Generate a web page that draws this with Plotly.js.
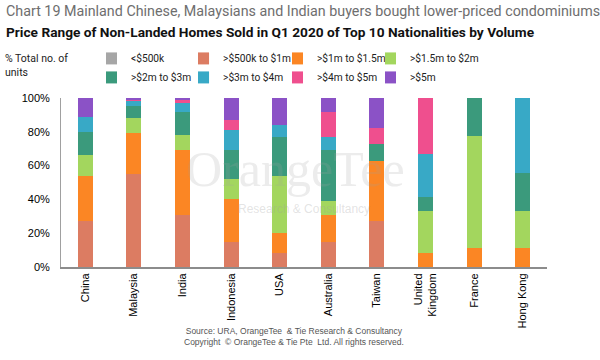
<!DOCTYPE html>
<html>
<head>
<meta charset="utf-8">
<script src="https://cdn.plot.ly/plotly-3.0.1.min.js"></script>
<style>
html,body{margin:0;padding:0;background:#fff;}
#chart{width:600px;height:360px;}
</style>
</head>
<body>
<div id="chart"></div>
<script>
var categories = ["China","Malaysia","India","Indonesia","USA","Australia","Taiwan","United<br>Kingdom","France","Hong Kong"];
var seriesNames = ["<$500k",">$500k to $1m",">$1m to $1.5m",">$1.5m to $2m",">$2m to $3m",">$3m to $4m",">$4m to $5m",">$5m"];
var under500k   = [0,0,0,0,0,0,0,0,0,0];
var k500to1m    = [27,55,31,15,8,15,27,0,0,0];
var m1to1_5     = [27,24,38,25,12,16,36,8.3,11.1,11.1];
var m1_5to2     = [12,9,9,12,34,8,0,25,66.7,22.2];
var m2to3       = [14,7,14,17,23,30,10,8.3,22.2,22.2];
var m3to4       = [9,3,5,12,7,8,0,25,0,44.5];
var m4to5       = [0,1,2,6,0,15,9,33.4,0,0];
var over5m      = [11,1,1,13,16,8,18,0,0,0];
var seriesValues = [under500k,k500to1m,m1to1_5,m1_5to2,m2to3,m3to4,m4to5,over5m];
var seriesColors = ["#a6a6a6","#dc7c62","#fb8624","#a3d65e","#3b9a7c","#38a9c6","#ef4f8e","#8b52c6"];
var yTickVals = [0,20,40,60,80,100];
var yTickText = ["0%","20%","40%","60%","80%","100%"];

var legendIds = ["legend","legend2","legend3","legend4"];
var traces = seriesNames.map(function(n,i){
  return {
    type:"bar", name:n, x:categories, y:seriesValues[i],
    legend: legendIds[i % 4],
    marker:{color:seriesColors[i], line:{width:0}},
    hoverinfo:"x+y+name"
  };
});

var legendFont = {family:"Roboto, sans-serif", size:10.2, color:"#222"};
function mkLegend(x){
  return {orientation:"v", x:x, xanchor:"left", y:1.32, yanchor:"top", font:legendFont,
    itemwidth:30, indentation:-15, traceorder:"normal", tracegroupgap:0,
    bgcolor:"rgba(255,255,255,0)", borderwidth:0};
}

var layout = {
  width:600, height:360,
  margin:{l:61, r:53, t:98, b:93},
  barmode:"stack", bargap:0.69,
  paper_bgcolor:"#fff", plot_bgcolor:"#fff",
  font:{family:"Liberation Sans, Arial, sans-serif", color:"#000", size:11},
  showlegend:true,
  legend:mkLegend(0.0926),
  legend2:mkLegend(0.282),
  legend3:mkLegend(0.4753),
  legend4:mkLegend(0.6667),
  xaxis:{type:"category", tickangle:-90, showline:true, linecolor:"#8c8c8c", linewidth:2,
    ticks:"", showgrid:false, zeroline:false, tickfont:{size:11, color:"#000"}, fixedrange:true},
  yaxis:{range:[0,100], tickvals:yTickVals, ticktext:yTickText, showline:true, linecolor:"#a0a0a0", linewidth:1,
    ticks:"", showgrid:false, zeroline:false, tickfont:{size:11, color:"#000"}, ticklabelstandoff:8, fixedrange:true},
  annotations:[
    {xref:"paper", yref:"paper", x:-0.117, y:1.515, xanchor:"left", yanchor:"middle", showarrow:false,
     text:"Chart 19 Mainland Chinese, Malaysians and Indian buyers bought lower-priced condominiums",
     font:{family:"Roboto, sans-serif", size:14.3, color:"#6e6e6e"}},
    {xref:"paper", yref:"paper", x:-0.117, y:1.39, xanchor:"left", yanchor:"middle", showarrow:false,
     text:"<b>Price Range of Non-Landed Homes Sold in Q1 2020 of Top 10 Nationalities by Volume</b>",
     font:{family:"Roboto, sans-serif", size:13.7, color:"#111"}},
    {xref:"paper", yref:"paper", x:-0.12, y:1.285, xanchor:"left", yanchor:"top", showarrow:false, align:"left",
     text:"% Total no. of<br>units",
     font:{family:"Roboto, sans-serif", size:10.5, color:"#222"}},
    {xref:"paper", yref:"paper", x:0.482, y:0.58, xanchor:"center", yanchor:"middle", showarrow:false,
     text:"OrangeTee", font:{family:"Liberation Serif, serif", size:50, color:"rgba(160,160,160,0.2)"}},
    {xref:"paper", yref:"paper", x:0.5, y:0.345, xanchor:"center", yanchor:"middle", showarrow:false,
     text:"Research & Consultancy", font:{family:"Liberation Sans, sans-serif", size:12, color:"rgba(160,160,160,0.3)"}},
    {xref:"paper", yref:"paper", x:0.479, y:-0.41, xanchor:"center", yanchor:"middle", showarrow:false, align:"center",
     text:"Source: URA, OrangeTee  & Tie Research & Consultancy<br>Copyright  © OrangeTee & Tie Pte  Ltd. All rights reserved.",
     font:{family:"Liberation Sans, sans-serif", size:8.5, color:"#555"}}
  ]
};

Plotly.newPlot("chart", traces, layout, {displayModeBar:false, staticPlot:true});
</script>
</body>
</html>
